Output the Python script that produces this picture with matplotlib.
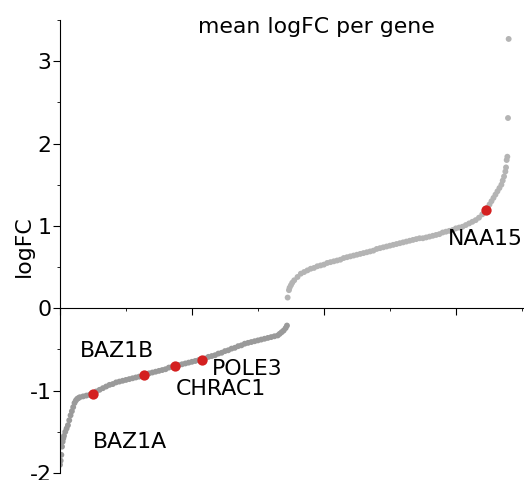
import numpy as np
import matplotlib
matplotlib.use("Agg")
import matplotlib.pyplot as plt
from matplotlib.ticker import MultipleLocator

plt.rcParams['axes.unicode_minus'] = False

# gene rank and mean logFC (sorted)
rank = [0, 1, 2, 3, 4, 5, 6, 8, 10, 12, 14, 16, 18, 20, 22, 24, 26, 28, 30, 35, 40, 45, 50,
        55, 60, 65, 70, 75, 80, 85, 90, 95, 100, 105, 110, 115, 120, 125, 130, 135, 140,
        145, 150, 155, 160, 165, 170, 175, 180, 185, 190, 195, 200, 205, 210, 215, 220,
        225, 230, 235, 240, 245, 250, 255, 260, 265, 270, 275, 280, 285, 290, 295, 300,
        305, 310, 315, 320, 325, 330, 333, 336, 339, 342, 344,
        345, 347, 348, 350, 352, 355, 360, 365, 370, 375, 380, 385, 390, 395, 400, 405,
        410, 415, 420, 425, 430, 435, 440, 445, 450, 455, 460, 465, 470, 475, 480, 485,
        490, 495, 500, 505, 510, 515, 520, 525, 530, 535, 540, 545, 550, 555, 560, 565,
        570, 575, 580, 585, 590, 595, 600, 605, 610, 615, 620, 625, 630, 635, 640, 645,
        648, 651, 654, 657, 660, 663, 666, 669, 671, 673, 675, 676, 677, 678, 679, 680]
logfc = [-1.90, -1.85, -1.78, -1.68, -1.62, -1.58, -1.55, -1.50, -1.46, -1.42, -1.36, -1.30,
         -1.25, -1.20, -1.15, -1.12, -1.10, -1.09, -1.08, -1.07, -1.06, -1.05, -1.03,
         -1.01, -0.99, -0.97, -0.95, -0.93, -0.92, -0.90, -0.89, -0.88, -0.87, -0.86, -0.85,
         -0.84, -0.83, -0.82, -0.80, -0.79, -0.78, -0.77, -0.76, -0.75, -0.74, -0.72, -0.71,
         -0.70, -0.69, -0.68, -0.67, -0.66, -0.65, -0.64, -0.63, -0.62, -0.61, -0.59, -0.58,
         -0.57, -0.55, -0.54, -0.52, -0.51, -0.49, -0.48, -0.46, -0.45, -0.43, -0.42, -0.41,
         -0.40, -0.39, -0.38, -0.37, -0.36, -0.35, -0.34, -0.33, -0.31, -0.29, -0.27, -0.24,
         -0.21,
         0.13, 0.22, 0.25, 0.28, 0.31, 0.34, 0.38, 0.42, 0.44, 0.46, 0.48, 0.49, 0.51, 0.52,
         0.53, 0.55, 0.56, 0.57, 0.58, 0.59, 0.61, 0.62, 0.63, 0.64, 0.65, 0.66, 0.67, 0.68,
         0.69, 0.70, 0.72, 0.73, 0.74, 0.75, 0.76, 0.77, 0.78, 0.79, 0.80, 0.81, 0.82, 0.83,
         0.84, 0.85, 0.85, 0.86, 0.87, 0.88, 0.89, 0.90, 0.92, 0.93, 0.94, 0.95, 0.97, 0.98,
         0.99, 1.01, 1.03, 1.05, 1.07, 1.10, 1.14, 1.18, 1.22, 1.26, 1.30, 1.34, 1.38, 1.42,
         1.46, 1.50, 1.55, 1.60, 1.66, 1.71, 1.80, 1.84, 2.31, 3.27]

genes = ['BAZ1A', 'BAZ1B', 'CHRAC1', 'POLE3', 'NAA15']
gene_rank = [50, 127, 174, 215, 645]
gene_logfc = [-1.04, -0.81, -0.70, -0.63, 1.19]

# label placement (data coords, left/center anchored)
label_pos = [(50, -1.62, 'left'), (30, -0.52, 'left'), (176, -0.98, 'left'),
             (230, -0.74, 'left'), (644, 0.84, 'center')]

fs = 15.8

fig = plt.figure(figsize=(5.24, 4.8), dpi=100)
# axes runs past the right edge of the image, like the reference crop
ax = fig.add_axes([60 / 524, 1 - 473 / 480, 512 / 524, 453 / 480])

x = np.array(rank)
y = np.array(logfc)
cols = np.where(y < 0, '#9a9a9a', '#b4b4b4')
ax.scatter(x, y, s=18, c=cols, linewidths=0, zorder=2)
ax.scatter(gene_rank, gene_logfc, s=55, c='#d42020', linewidths=0, zorder=3)

for g, (lx, ly, ha) in zip(genes, label_pos):
    ax.text(lx, ly, g, fontsize=fs, ha=ha, va='center')

ax.set_xlim(0, 776)
ax.set_ylim(-2.0, 3.5)

ax.spines['top'].set_visible(False)
ax.spines['right'].set_visible(False)
ax.spines['bottom'].set_position(('data', 0))

ax.xaxis.set_major_locator(MultipleLocator(200))
ax.xaxis.set_minor_locator(MultipleLocator(100))
ax.set_xticklabels([])
ax.yaxis.set_major_locator(MultipleLocator(1))
ax.yaxis.set_minor_locator(MultipleLocator(0.5))
ax.tick_params(axis='both', which='major', length=5, labelsize=fs, pad=1)
ax.tick_params(axis='both', which='minor', length=2.5)

ax.set_ylabel('logFC', fontsize=fs, labelpad=-3)
ax.set_title('mean logFC per gene', fontsize=fs, y=0.971, pad=0)

fig.savefig('out.png', dpi=100)
